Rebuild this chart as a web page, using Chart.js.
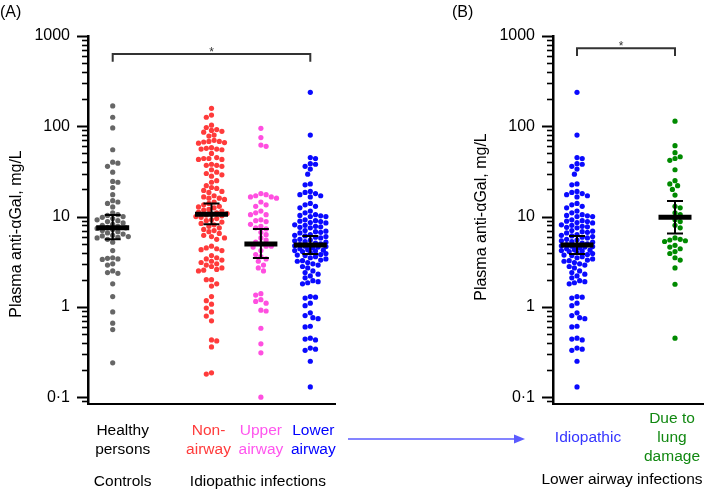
<!DOCTYPE html>
<html>
<head>
<meta charset="utf-8">
<script src="https://cdn.jsdelivr.net/npm/chart.js@4.4.1/dist/chart.umd.min.js"></script>
<style>
  html, body { margin: 0; padding: 0; background: #fff; }
  #wrap { position: relative; width: 709px; height: 490px; overflow: hidden; }
  #chartA { position: absolute; left: 0; top: 0; }
  #chartB { position: absolute; left: 345px; top: 0; }
</style>
</head>
<body>
<div id="wrap">
  <canvas id="chartA" width="345" height="490"></canvas>
  <canvas id="chartB" width="364" height="490"></canvas>
</div>
<script>
// values, mg/L
const healthy = [168, 126, 96, 55, 40, 39, 36, 31, 24.5, 24, 21, 17.5, 15, 14.5, 14, 12.8, 11, 10.5, 10.3, 10,
  9.8, 9.5, 9.2, 9, 8.8, 8.5, 8.2, 8, 7.8, 7.6, 7.5, 7.4, 7.2, 7, 6.8, 6.6, 6.4, 6.2, 6.1, 6,
  5.9, 5.8, 5.6, 5.2, 4.2, 3.5, 3.45, 3.4, 3.35, 3.0, 2.9, 2.5, 2.4, 2.35, 1.8, 1.3, 0.88, 0.66, 0.56, 0.24];

const nonAirway = [158, 133, 126, 103, 97, 92, 90, 88, 86, 80, 78,
  70, 68, 68, 67, 66, 65, 58, 57, 56, 56, 55, 50, 45, 44, 44, 43, 43, 38, 37, 37, 36,
  33, 31, 30, 29, 28, 25, 24, 22, 21, 20.5, 19.5, 19, 18.5, 17, 16.5, 16, 16, 15.5,
  14.5, 14, 13.5, 13, 12.8, 12.5, 12, 11.8, 11.5, 11.2, 11, 10.8, 10.6,
  10.4, 10.2, 10, 9.8, 9.5, 9.2, 9, 8.7, 8.4, 8.1, 7.8, 7.5, 7.2, 7, 6.8,
  6.5, 6.2, 6, 5.8, 5.6, 4.7, 4.5, 4.4, 4.3, 4.2, 3.7, 3.5, 3.4, 3.3, 3.2, 3.1,
  3.0, 2.9, 2.8, 2.7, 2.6, 2.55, 2.5, 2.0, 2.0, 1.8, 1.7, 1.3, 1.17, 1.07, 0.97, 0.88,
  0.79, 0.70, 0.43, 0.42, 0.36, 0.18, 0.186];

const upperAirway = [95, 75, 62, 60, 18, 17.5, 17, 16.5, 16.5, 16, 14.5, 13.5, 13, 11.5, 11, 10.5, 10.5,
  9.2, 9, 8.8, 8.2, 7.8, 7.5, 7.3, 6.7, 6.3, 5.8, 5.5, 5.2, 5, 4.7, 4.7, 4.6, 4.2, 3.8, 3.6, 3.4, 3.2,
  2.9, 2.7, 2.5, 1.4, 1.35, 1.2, 1.15, 1.1, 0.92, 0.9, 0.58, 0.39, 0.31, 0.1];

const lowerAirway = [238, 80, 45, 44, 38.5, 38, 36, 33.6, 29.5, 23, 22.5,
  19, 18.5, 18, 17.5, 17, 16.5, 14, 13.5, 13, 12.5, 11.5, 11, 10.5, 10.3, 10.2, 10, 10,
  9.2, 9, 8.9, 8.8, 8.6, 8.5, 8.1, 8, 7.8, 7.7, 7.6, 7.5, 7.0, 6.9, 6.8, 6.7, 6.6,
  6.3, 6.2, 6.1, 6, 5.9, 5.8, 5.6, 5.5, 5.4, 5.3, 5.2, 5.1, 5, 4.9, 4.8, 4.75, 4.7, 4.65, 4.6, 4.5,
  4.4, 4.3, 4.25, 4.2, 4.15, 4.1, 4, 3.9, 3.8, 3.75, 3.7, 3.6, 3.5, 3.4, 3.3, 3.25, 3.2, 3.1,
  3.0, 2.9, 2.8, 2.7, 2.5, 2.4, 2.3, 2.2, 2.1, 1.95, 1.9, 1.85, 1.8, 1.3, 1.28, 1.25, 1.1, 1.03,
  0.86, 0.8, 0.76, 0.74, 0.61, 0.6, 0.45, 0.44, 0.43, 0.35, 0.34, 0.33, 0.25, 0.13];

const lungDamage = [114, 61, 51, 46, 44, 42, 33, 25, 23, 22, 20, 17.3, 13, 12.5, 11, 10.5, 9.2, 8.8, 8, 7.5,
  5.8, 5.6, 5.5, 5.4, 5.3, 4.8, 4.6, 4.4, 4.1, 3.9, 3.5, 3.3, 2.7, 1.78, 0.45];

// median with 95% CI
const medianA = [7.5, 10.6, 4.96, 4.83];
const ciLowA = [5.6, 8.2, 3.47, 3.84];
const ciHighA = [10.4, 14.0, 7.3, 6.1];
const medianB = [4.83, 9.8];
const ciLowB = [3.84, 6.5];
const ciHighB = [6.1, 14.9];

const yTicks = [0.1, 1, 10, 100, 1000];
const yTickLabels = ['0·1', '1', '10', '100', '1000'];

const catLabelsA = [['Healthy', 'persons'], ['Non-', 'airway'], ['Upper', 'airway'], ['Lower', 'airway']];
const catLabelsB = [['Idiopathic'], ['Due to', 'lung', 'damage']];
const yTitle = 'Plasma anti-αGal, mg/L';

const FONT = '"Liberation Sans", Arial, Helvetica, sans-serif';
const Y_MIN = 0.084, Y_MAX = 1000;

function minorTicks() {
    const out = [];
    for (let e = -2; e <= 2; e++) {
        for (let m = 1; m <= 9; m++) out.push(m * Math.pow(10, e));
    }
    out.push(1000);
    return out.filter(v => v >= Y_MIN && v <= Y_MAX);
}

// beeswarm offsets (pixels -> x units), clamped to a max half width
function swarm(values, yScale, pxPerUnit, diam, maxHalf) {
    const items = values.map((v, i) => ({ i, y: yScale.getPixelForValue(v) }))
        .sort((a, b) => a.y - b.y);
    const placed = [];
    const off = new Array(values.length).fill(0);
    const step = diam / 2;
    items.forEach((it, n) => {
        const sgn = n % 2 ? 1 : -1;
        let best = 0, bestGap = -1;
        for (let k = 0; ; k++) {
            const dx = sgn * (k % 2 ? 1 : -1) * Math.ceil(k / 2) * step;
            if (Math.abs(dx) > maxHalf) break;
            let gap = Infinity;
            placed.forEach(p => {
                const dy = p.y - it.y;
                if (Math.abs(dy) < diam) gap = Math.min(gap, Math.hypot(p.x - dx, dy));
            });
            if (gap >= diam) { best = dx; bestGap = gap; break; }
            if (gap > bestGap) { best = dx; bestGap = gap; }
        }
        placed.push({ x: best, y: it.y });
        off[it.i] = best / pxPerUnit;
    });
    return off;
}

function makeDecor(cfg) {
    return {
        id: 'decor',
        afterDatasetsDraw(chart) {
            const ctx = chart.ctx;
            const xs = chart.scales.x, ys = chart.scales.y;
            ctx.save();
            ctx.strokeStyle = '#000';
            ctx.lineCap = 'butt';
            cfg.pos.forEach((p, i) => {
                const cx = xs.getPixelForValue(p);
                const yHi = ys.getPixelForValue(cfg.ciHigh[i]);
                const yLo = ys.getPixelForValue(cfg.ciLow[i]);
                const yMed = ys.getPixelForValue(cfg.median[i]);
                ctx.lineWidth = 2;
                ctx.beginPath();
                ctx.moveTo(cx, yHi); ctx.lineTo(cx, yLo);
                ctx.moveTo(cx - 8, yHi); ctx.lineTo(cx + 8, yHi);
                ctx.moveTo(cx - 8, yLo); ctx.lineTo(cx + 8, yLo);
                ctx.stroke();
                ctx.lineWidth = 5;
                ctx.beginPath();
                ctx.moveTo(cx - 16.5, yMed); ctx.lineTo(cx + 16.5, yMed);
                ctx.stroke();
            });
            ctx.restore();
        },
        afterDraw(chart) {
            const ctx = chart.ctx;
            const xs = chart.scales.x, ys = chart.scales.y;
            const left = chart.chartArea.left;
            ctx.save();
            // log tick marks
            ctx.strokeStyle = '#000';
            minorTicks().forEach(v => {
                const major = yTicks.includes(v);
                const py = Math.round(ys.getPixelForValue(v)) + 0.5;
                ctx.lineWidth = major ? 2 : 1.6;
                ctx.beginPath();
                ctx.moveTo(left - (major ? 11 : 6), py);
                ctx.lineTo(left, py);
                ctx.stroke();
            });
            // y title
            ctx.fillStyle = '#000';
            ctx.font = '16px ' + FONT;
            ctx.textAlign = 'center';
            ctx.textBaseline = 'middle';
            ctx.translate(cfg.titleX, cfg.titleY);
            ctx.rotate(-Math.PI / 2);
            ctx.fillText(yTitle, 0, 0);
            ctx.setTransform(1, 0, 0, 1, 0, 0);
            // panel letter
            ctx.textAlign = 'left';
            ctx.textBaseline = 'alphabetic';
            ctx.font = '16px ' + FONT;
            ctx.fillText(cfg.letter, cfg.letterX, 17);
            // category labels
            ctx.textAlign = 'center';
            ctx.font = '15.5px ' + FONT;
            cfg.catLabels.forEach((lines, i) => {
                const x = xs.getPixelForValue(cfg.pos[i]) + cfg.labelNudge[i];
                ctx.fillStyle = cfg.labelColors[i];
                lines.forEach((t, j) => {
                    ctx.fillText(t, x, cfg.labelMid + (j - (lines.length - 1) / 2) * 19);
                });
            });
            ctx.fillStyle = '#000';
            cfg.groupLabels.forEach(g => {
                ctx.fillText(g.text, xs.getPixelForValue(g.at) + g.nudge, cfg.groupY);
            });
            // significance bracket
            const b = cfg.bracket;
            const x1 = xs.getPixelForValue(b.from), x2 = xs.getPixelForValue(b.to);
            const yTop = ys.getPixelForValue(b.y), yEnd = ys.getPixelForValue(b.yEnd);
            ctx.strokeStyle = '#333';
            ctx.lineWidth = 2;
            ctx.beginPath();
            ctx.moveTo(x1, yEnd); ctx.lineTo(x1, yTop); ctx.lineTo(x2, yTop); ctx.lineTo(x2, yEnd);
            ctx.stroke();
            ctx.fillStyle = '#333';
            ctx.font = '12px ' + FONT;
            const m = ctx.measureText('*');
            const glyphMid = (m.actualBoundingBoxAscent - m.actualBoundingBoxDescent) / 2;
            ctx.fillText('*', (x1 + x2) / 2 + b.starNudge, yTop - 5 + glyphMid);
            // arrow from panel A to panel B
            if (cfg.arrow) {
                const a = cfg.arrow;
                ctx.strokeStyle = '#5b5bff';
                ctx.fillStyle = '#5b5bff';
                ctx.lineWidth = 1.5;
                ctx.beginPath();
                ctx.moveTo(a.x1, a.y); ctx.lineTo(a.x2 - 8, a.y);
                ctx.stroke();
                ctx.beginPath();
                ctx.moveTo(a.x2, a.y); ctx.lineTo(a.x2 - 11, a.y - 4.5); ctx.lineTo(a.x2 - 11, a.y + 4.5);
                ctx.closePath();
                ctx.fill();
            }
            ctx.restore();
        }
    };
}

function makePanel(cfg) {
    const chart = new Chart(document.getElementById(cfg.canvas), {
        type: 'scatter',
        data: {
            datasets: cfg.groups.map((g, i) => ({
                data: g.map(v => ({ x: cfg.pos[i], y: v })),
                backgroundColor: cfg.colors[i],
                borderWidth: 0,
                pointRadius: 2.6,
                pointHoverRadius: 2.6
            }))
        },
        options: {
            responsive: false,
            animation: false,
            layout: { padding: { left: 0, top: 36, right: cfg.padRight, bottom: 0 } },
            plugins: { legend: { display: false }, tooltip: { enabled: false } },
            scales: {
                x: {
                    type: 'linear', min: cfg.xMin, max: cfg.xMax,
                    grid: { display: false, drawTicks: false },
                    border: { display: true, color: '#000', width: 2 },
                    ticks: { display: false },
                    afterFit: s => { s.height = 86; }
                },
                y: {
                    type: 'logarithmic', min: Y_MIN, max: Y_MAX,
                    grid: { display: false, drawTicks: false },
                    border: { display: true, color: '#000', width: 2.5 },
                    afterBuildTicks: s => { s.ticks = yTicks.map(v => ({ value: v })); },
                    ticks: {
                        autoSkip: false,
                        padding: 18,
                        color: '#000',
                        font: { family: FONT, size: 16 },
                        callback: v => yTickLabels[yTicks.indexOf(v)] ?? ''
                    },
                    afterFit: s => { s.width = cfg.axisLeft; }
                }
            }
        },
        plugins: [makeDecor(cfg)]
    });

    const pxPerUnit = chart.scales.x.getPixelForValue(1) - chart.scales.x.getPixelForValue(0);
    cfg.groups.forEach((g, i) => {
        const off = swarm(g, chart.scales.y, pxPerUnit, 5.2, 16);
        chart.data.datasets[i].data = g.map((v, k) => ({ x: cfg.pos[i] + off[k], y: v }));
    });
    chart.update('none');
    return chart;
}

makePanel({
    canvas: 'chartA',
    groups: [healthy, nonAirway, upperAirway, lowerAirway],
    pos: [0, 2, 3, 4],
    colors: ['#666666', '#ff3b3b', '#ff4fe0', '#0a0aff'],
    labelColors: ['#000', '#ff3b3b', '#ff55ee', '#0000ff'],
    median: medianA, ciLow: ciLowA, ciHigh: ciHighA,
    xMin: -0.5, xMax: 4.5, axisLeft: 88, padRight: 10,
    catLabels: catLabelsA, labelNudge: [10, -3, 0, 3], labelMid: 444.5,
    groupLabels: [{ text: 'Controls', at: 0, nudge: 10 }, { text: 'Idiopathic infections', at: 3, nudge: -3 }],
    groupY: 486,
    titleX: 17, titleY: 234,
    letter: '(A)', letterX: 0,
    bracket: { from: 0, to: 4, y: 630, yEnd: 520, starNudge: 0 }
});

makePanel({
    canvas: 'chartB',
    groups: [lowerAirway, lungDamage],
    pos: [0, 1],
    colors: ['#0a0aff', '#008a00'],
    labelColors: ['#3535ff', '#118811'],
    median: medianB, ciLow: ciLowB, ciHigh: ciHighB,
    xMin: -0.245, xMax: 1.2857, axisLeft: 208, padRight: 6,
    catLabels: catLabelsB, labelNudge: [11, -3], labelMid: 442,
    groupLabels: [{ text: 'Lower airway infections', at: 0.5, nudge: -4 }],
    groupY: 484,
    titleX: 137, titleY: 217,
    letter: '(B)', letterX: 107,
    bracket: { from: 0, to: 1, y: 730, yEnd: 600, starNudge: -5 },
    arrow: { x1: 3, x2: 180, y: 439 }
});
</script>
</body>
</html>
